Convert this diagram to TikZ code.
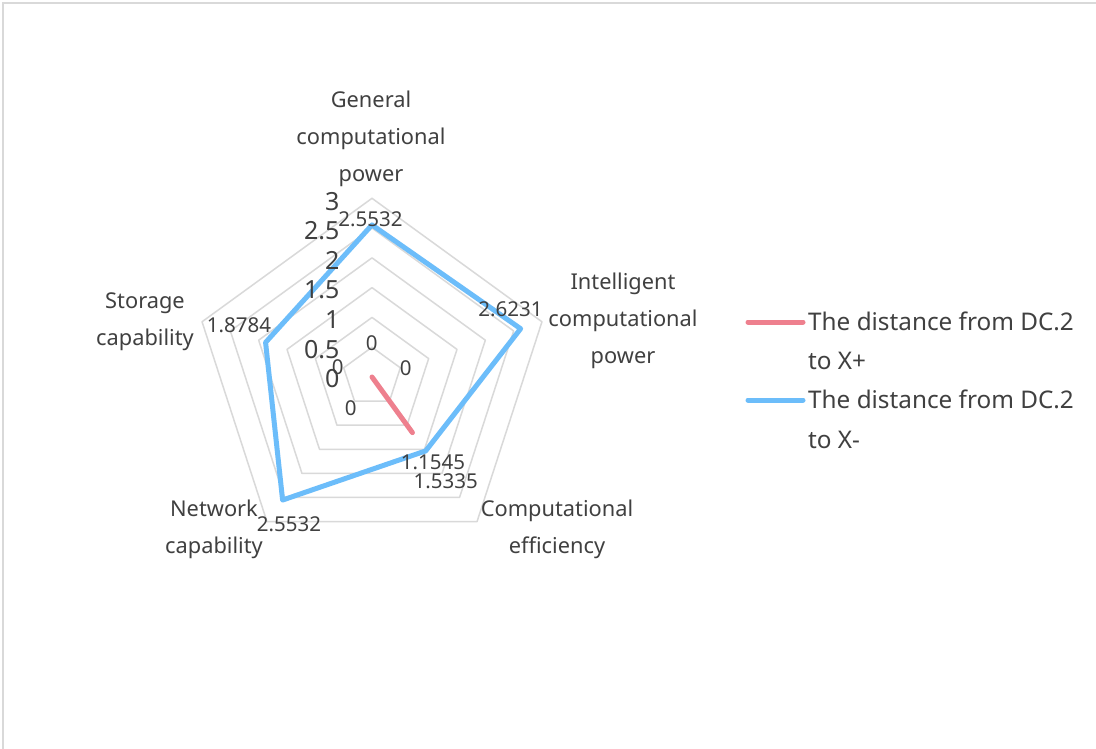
\documentclass[tikz,border=0pt]{standalone}
\usepackage{fontspec}
\setmainfont{Noto Sans}
\definecolor{txt}{RGB}{64,64,64}
\definecolor{gridc}{RGB}{217,217,217}
\definecolor{redl}{RGB}{238,128,142}
\definecolor{bluel}{RGB}{108,189,250}
\tikzset{
  gridline/.style={draw=gridc, line width=1.5pt, line join=round},
  blueline/.style={draw=bluel, line width=5pt, line join=round, line cap=round},
  redline/.style={draw=redl, line width=5pt, line join=round, line cap=round},
  dlab/.style={font=\fontsize{20.5}{24}\selectfont, text=txt, inner sep=0pt},
  axlab/.style={font=\fontsize{25}{29}\selectfont, text=txt, inner sep=0pt, anchor=east},
  catlab/.style={font=\fontsize{21.8}{37}\selectfont, text=txt, inner sep=0pt, align=center, anchor=base},
  legtext/.style={font=\fontsize{24.3}{39.5}\selectfont, text=txt, inner sep=0pt, align=left, anchor=base west}
}
\begin{document}
\begin{tikzpicture}[x=1pt,y=-1pt]
\useasboundingbox (0,0) rectangle (1096,749);
\fill[white] (0,0) rectangle (1096,749);
\draw[gridc, line width=1.5pt] (3,749) -- (3,3) -- (1096,3);
\coordinate (C) at (372,377);
\begin{scope}[shift={(372,377)}, y=1pt]
  \foreach \v in {0.5,1,1.5,2,2.5,3} {
    \pgfmathsetmacro\rr{\v*59.57}
    \draw[gridline] (90:\rr) -- (18:\rr) -- (-54:\rr) -- (-126:\rr) -- (162:\rr) -- cycle;
  }
  \coordinate (b1) at (90:152.09);
  \coordinate (b2) at (18:156.26);
  \coordinate (b3) at (-54:91.35);
  \coordinate (b4) at (-126:152.09);
  \coordinate (b5) at (162:111.90);
  \coordinate (r3) at (-54:68.77);
\end{scope}
\draw[redline] (C) -- (r3);
\draw[blueline] (b1) -- (b2) -- (b3) -- (b4) -- (b5) -- cycle;
% axis labels
\node[axlab] (a0) at (339.5,379) {0};
\node[axlab] (a1) at (339.5,349.5) {0.5};
\node[axlab] (a2) at (339.5,320) {1};
\node[axlab] (a3) at (339.5,290) {1.5};
\node[axlab] (a4) at (339.5,260.5) {2};
\node[axlab] (a5) at (339.5,231) {2.5};
\node[axlab] (a6) at (339.5,201.5) {3};
% data labels
\node[dlab] (d1) at (370.5,219.5) {2.5532};
\node[dlab] (d2) at (510.5,309) {2.6231};
\node[dlab] (d3) at (445.7,481) {1.5335};
\node[dlab] (d4) at (289,524) {2.5532};
\node[dlab] (d5) at (239,325.5) {1.8784};
\node[dlab] (z1) at (371.7,343) {0};
\node[dlab] (z2) at (405.7,368) {0};
\node[dlab] (z3) at (433,462.5) {1.1545};
\node[dlab] (z4) at (350.7,408) {0};
\node[dlab] (z5) at (337.7,366.7) {0};
% category labels (anchor = baseline of last line)
\node[catlab] (c1) at (371,182) {General\\computational\\power};
\node[catlab] (c2) at (623,363) {Intelligent\\computational\\power};
\node[catlab] (c3) at (557,553) {Computational\\efficiency};
\node[catlab] (c4) at (214,553) {Network\\capability};
\node[catlab] (c5) at (145,345) {Storage\\capability};
% legend
\coordinate (lr1) at (748,322);
\coordinate (lr2) at (803,322);
\coordinate (lb1) at (748,400);
\coordinate (lb2) at (803,400);
\draw[redline] (lr1) -- (lr2);
\draw[blueline] (lb1) -- (lb2);
\node[legtext] (t1) at (808,369.5) {The distance from DC.2\\to X+};
\node[legtext] (t2) at (808,448) {The distance from DC.2\\to X-};
\end{tikzpicture}
\end{document}
